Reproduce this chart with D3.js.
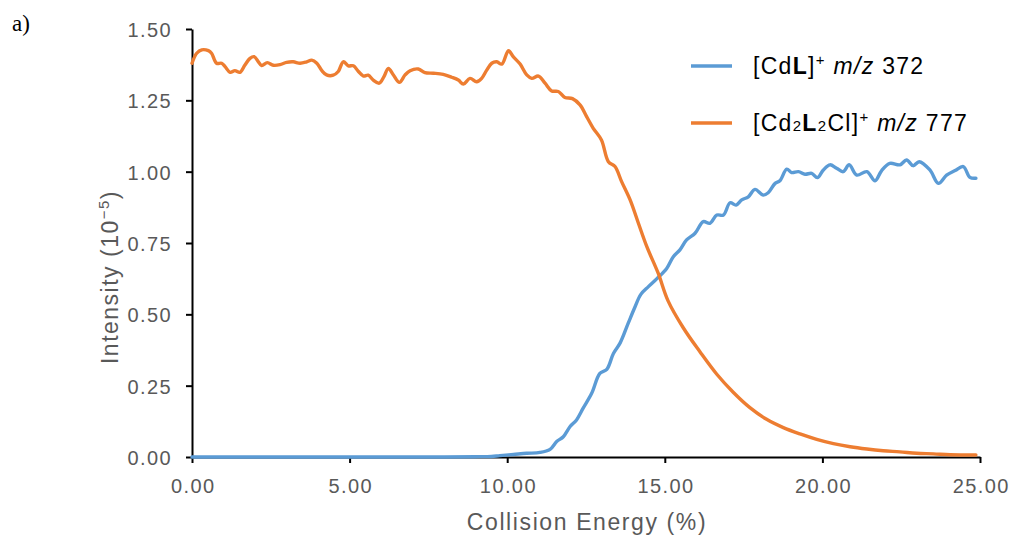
<!DOCTYPE html>
<html>
<head>
<meta charset="utf-8">
<script src="https://cdn.jsdelivr.net/npm/d3@7"></script>
<style>
  body { margin: 0; background: #fff; }
  text { font-family: "Liberation Sans", Arial, sans-serif; }
</style>
</head>
<body>
<svg id="chart" width="1018" height="539"></svg>
<script>
const svg = d3.select("#chart");

// collision energy (%) and intensity (10^-5)
const cdlEnergy = [0, 2, 4, 6, 8, 9, 9.5, 9.77, 10.2, 10.62, 11.04, 11.36, 11.57, 11.78, 11.99, 12.2, 12.41, 12.68, 12.94, 13.16, 13.37, 13.58, 13.84, 14.05, 14.24, 14.48, 14.75, 15.06, 15.27, 15.48, 15.69, 15.96, 16.22, 16.43, 16.65, 16.86, 17.07, 17.26, 17.44, 17.65, 17.86, 18.12, 18.28, 18.5, 18.65, 18.87, 19.02, 19.24, 19.45, 19.66, 19.84, 20.03, 20.24, 20.45, 20.66, 20.85, 21.09, 21.41, 21.67, 21.88, 22.14, 22.46, 22.67, 22.88, 23.07, 23.41, 23.68, 23.94, 24.21, 24.47, 24.68, 24.87];
const cdlIntensity = [0, 0, 0, 0, 0, 0.001, 0.002, 0.005, 0.009, 0.013, 0.016, 0.027, 0.054, 0.071, 0.106, 0.13, 0.171, 0.223, 0.293, 0.307, 0.363, 0.399, 0.469, 0.525, 0.57, 0.597, 0.625, 0.661, 0.702, 0.726, 0.761, 0.784, 0.825, 0.819, 0.848, 0.848, 0.891, 0.883, 0.901, 0.912, 0.938, 0.918, 0.926, 0.959, 0.968, 1.009, 0.997, 1.0, 0.991, 0.994, 0.979, 1.006, 1.024, 1.012, 1.0, 1.024, 0.988, 1.0, 0.968, 1.004, 1.029, 1.024, 1.041, 1.021, 1.035, 1.006, 0.959, 0.988, 1.004, 1.018, 0.98, 0.977];

const dimerEnergy = [0, 0.15, 0.31, 0.52, 0.62, 0.78, 0.94, 1.05, 1.21, 1.36, 1.52, 1.68, 1.84, 1.97, 2.1, 2.21, 2.39, 2.58, 2.79, 3.0, 3.21, 3.43, 3.64, 3.8, 3.96, 4.12, 4.27, 4.48, 4.64, 4.8, 4.96, 5.12, 5.28, 5.44, 5.59, 5.75, 5.94, 6.09, 6.23, 6.39, 6.58, 6.76, 6.92, 7.18, 7.39, 7.66, 7.97, 8.24, 8.45, 8.61, 8.82, 9.03, 9.19, 9.35, 9.51, 9.67, 9.83, 10.04, 10.19, 10.41, 10.62, 10.78, 10.99, 11.2, 11.41, 11.62, 11.83, 12.07, 12.31, 12.52, 12.73, 12.99, 13.21, 13.42, 13.63, 13.9, 14.16, 14.43, 14.79, 15.1, 15.59, 16.12, 16.65, 17.17, 17.7, 18.23, 18.76, 19.29, 19.82, 20.35, 20.88, 21.41, 21.93, 22.46, 22.99, 23.52, 24.05, 24.87];
const dimerIntensity = [1.38, 1.415, 1.427, 1.424, 1.415, 1.38, 1.38, 1.368, 1.348, 1.354, 1.348, 1.374, 1.397, 1.403, 1.386, 1.372, 1.382, 1.373, 1.375, 1.383, 1.385, 1.38, 1.385, 1.391, 1.38, 1.354, 1.339, 1.338, 1.351, 1.385, 1.371, 1.371, 1.351, 1.335, 1.338, 1.321, 1.31, 1.333, 1.362, 1.339, 1.313, 1.339, 1.354, 1.36, 1.347, 1.345, 1.341, 1.331, 1.321, 1.307, 1.327, 1.315, 1.327, 1.356, 1.38, 1.385, 1.377, 1.424, 1.403, 1.377, 1.339, 1.327, 1.335, 1.31, 1.283, 1.281, 1.26, 1.256, 1.234, 1.193, 1.152, 1.111, 1.035, 1.018, 0.965, 0.901, 0.82, 0.737, 0.644, 0.548, 0.452, 0.368, 0.29, 0.227, 0.173, 0.132, 0.103, 0.081, 0.062, 0.047, 0.036, 0.028, 0.022, 0.018, 0.013, 0.011, 0.008, 0.007];

const xTicks = [0, 5, 10, 15, 20, 25];
const yTicks = [0, 0.25, 0.5, 0.75, 1.0, 1.25, 1.5];

const x = d3.scaleLinear().domain([0, 25]).range([192, 980]);
const y = d3.scaleLinear().domain([0, 1.5]).range([457, 29]);

const grey = "#595959";

const xAxis = svg.append("g")
    .attr("transform", `translate(0,${y(0)})`)
    .call(d3.axisBottom(x).tickValues(xTicks).tickFormat(d3.format(".2f")).tickSize(6).tickSizeOuter(0));
const yAxis = svg.append("g")
    .attr("transform", `translate(${x(0)},0)`)
    .call(d3.axisLeft(y).tickValues(yTicks).tickFormat(d3.format(".2f")).tickSize(6).tickSizeOuter(0));

[xAxis, yAxis].forEach(g => {
    g.select(".domain").attr("stroke", "#000").attr("stroke-width", 2);
    g.selectAll(".tick line").attr("stroke", "#000").attr("stroke-width", 2);
    g.selectAll(".tick text")
        .attr("fill", grey)
        .style("font-size", "20px")
        .style("letter-spacing", "1.4px")
        .style("font-family", "'Liberation Sans', Arial, sans-serif");
});
xAxis.selectAll(".tick text").attr("y", 22).attr("dy", "0.71em").attr("dx", 0.7);
yAxis.selectAll(".tick text").attr("x", -20).attr("dy", "0.37em");

const line = d3.line()
    .x(d => x(d[0]))
    .y(d => y(d[1]))
    .curve(d3.curveCatmullRom.alpha(0.5));

const series = [
    { energy: cdlEnergy, intensity: cdlIntensity, color: "#5B9BD5" },
    { energy: dimerEnergy, intensity: dimerIntensity, color: "#ED7D31" }
];

series.forEach(s => {
    svg.append("path")
        .datum(s.energy.map((e, i) => [e, s.intensity[i]]))
        .attr("fill", "none")
        .attr("stroke", s.color)
        .attr("stroke-width", 3.4)
        .attr("stroke-linejoin", "round")
        .attr("stroke-linecap", "round")
        .attr("d", line);
});

// axis titles
svg.append("text")
    .attr("x", 587)
    .attr("y", 530)
    .attr("text-anchor", "middle")
    .attr("fill", grey)
    .style("font-size", "23px")
    .style("letter-spacing", "1.6px")
    .text("Collision Energy (%)");

const yTitle = svg.append("text")
    .attr("transform", `translate(118,277) rotate(-90)`)
    .attr("text-anchor", "middle")
    .attr("fill", grey)
    .style("font-size", "23px")
    .style("letter-spacing", "1.5px");
yTitle.append("tspan").text("Intensity (10");
yTitle.append("tspan").attr("dy", -9).style("font-size", "15px").text("\u22125");
yTitle.append("tspan").attr("dy", 9).text(")");

// panel label
svg.append("text")
    .attr("x", 12)
    .attr("y", 31)
    .style("font-family", "'Liberation Serif', 'Times New Roman', serif")
    .style("font-size", "23px")
    .attr("fill", "#000")
    .text("a)");

// legend
const legend = svg.append("g");
const legendRows = [
    { color: "#5B9BD5", yPos: 66, parts: [["[Cd", ""], ["L", "b"], ["]", ""], ["+", "sup"], [" ", ""], ["m/z", "i"], [" 372", ""]] },
    { color: "#ED7D31", yPos: 123, parts: [["[Cd", ""], ["2", "sub"], ["L", "b"], ["2", "sub"], ["Cl]", ""], ["+", "sup"], [" ", ""], ["m/z", "i"], [" 777", ""]] }
];

legendRows.forEach(r => {
    legend.append("line")
        .attr("x1", 691).attr("x2", 732)
        .attr("y1", r.yPos).attr("y2", r.yPos)
        .attr("stroke", r.color)
        .attr("stroke-width", 3.4);
    const t = legend.append("text")
        .attr("x", 753)
        .attr("y", r.yPos + 8)
        .attr("fill", "#000")
        .style("font-size", "23px")
        .style("letter-spacing", "1.3px");
    let shift = 0;
    r.parts.forEach(([str, kind]) => {
        const ts = t.append("tspan").text(str);
        let target = 0;
        if (kind === "b") ts.style("font-weight", "bold");
        if (kind === "i") ts.style("font-style", "italic");
        if (kind === "sup") { ts.style("font-size", "15px"); target = -9; }
        if (kind === "sub") { ts.style("font-size", "15px"); target = 0; }
        ts.attr("dy", target - shift);
        shift = target;
    });
});
</script>
</body>
</html>
